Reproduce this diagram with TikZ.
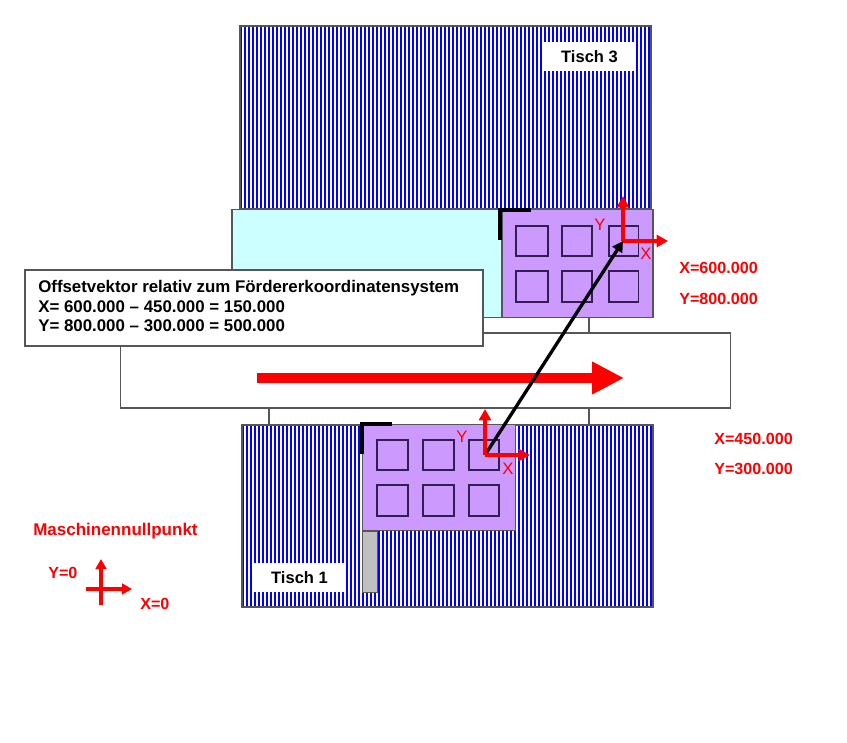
\documentclass[tikz,border=0pt]{standalone}
\usepackage{fontspec}
\setmainfont{Liberation Sans}
\usetikzlibrary{arrows.meta}
\definecolor{edge}{RGB}{85,85,90}
\definecolor{pale}{RGB}{204,255,255}
\definecolor{lilac}{RGB}{204,153,255}
\definecolor{stripe}{RGB}{0,0,255}
\definecolor{sq}{RGB}{50,30,80}
\definecolor{tray}{RGB}{192,192,192}
\definecolor{redc}{RGB}{255,0,0}
\tikzset{
  x=0.75pt,y=-0.75pt,
  panel/.style={draw=edge,line width=0.8pt,anchor=north west,inner sep=0pt,outer sep=0pt},
  slot/.style={draw=sq,line width=0.8pt,fill=none,anchor=north west,inner sep=0pt,outer sep=0pt},
  tag/.style={fill=white,inner sep=0pt,font=\bfseries\fontsize{12.4}{14}\selectfont},
  redtxt/.style={text=redc,inner sep=0pt,font=\bfseries\fontsize{12.1}{14}\selectfont,anchor=west},
  axtxt/.style={text=redc,inner sep=0pt,font=\fontsize{12.5}{14}\selectfont},
  axis/.style={draw=redc,line width=2.6pt,-{Triangle[length=8.5pt,width=9pt]}},
  crossax/.style={draw=redc,line width=2.4pt,-{Triangle[length=7.5pt,width=8pt]}},
  bracket/.style={draw=black,line width=2.9pt,line cap=butt,line join=miter},
  link/.style={draw=edge,line width=0.8pt},
}
\newcommand{\stripes}[4]{%
  \begin{scope}
    \clip (#1,#2) rectangle (#3,#4);
    \fill[white] (#1,#2) rectangle (#3,#4);
    \pgfmathsetmacro{\xsec}{#1+4}
    \foreach \sx in {#1,\xsec,...,#3} {\fill[stripe] (\sx,#2) rectangle ++(2,#4-#2);}
  \end{scope}%
  \draw[draw=edge,line width=0.8pt] (#1,#2) rectangle (#3,#4);%
}
\begin{document}
\begin{tikzpicture}
\useasboundingbox (0,0) rectangle (847,743);
% Tables
\stripes{240}{26}{651}{209}
\stripes{242}{425}{653}{607}
\node[tag,minimum width=69.75pt,minimum height=21.75pt] (t3) at (589.5,56.5) {Tisch 3};
\node[tag,minimum width=69.75pt,minimum height=21.75pt] (t1) at (299.5,577.5) {Tisch 1};
% Conveyor
\node[panel,fill=white,minimum width=457.5pt,minimum height=56.25pt] (conv) at (120.5,333) {};
\coordinate (lk1a) at (269,317); \coordinate (lk1b) at (269,333);
\coordinate (lk2a) at (589,317); \coordinate (lk2b) at (589,333);
\coordinate (lk3a) at (269,408); \coordinate (lk3b) at (269,425);
\coordinate (lk4a) at (589,408); \coordinate (lk4b) at (589,425);
\draw[link] (lk1a)--(lk1b); \draw[link] (lk2a)--(lk2b);
\draw[link] (lk3a)--(lk3b); \draw[link] (lk4a)--(lk4b);
% Upper station
\node[panel,fill=pale,minimum width=202.5pt,minimum height=81pt] (cy) at (232,209.5) {};
\node[panel,fill=lilac,minimum width=113.25pt,minimum height=81pt] (pt) at (502,209.5) {};
\foreach \nm/\px/\py/\pw/\ph in {a/516/226/32/30,b/562/226/30/30,c/609/226/29.5/30,d/516/271/32/31,e/562/271/30/31,f/609/271/29.5/31}
  \node[slot,minimum width=\pw*0.75pt,minimum height=\ph*0.75pt] (pt\nm) at (\px,\py) {};
\coordinate (b1a) at (531,210); \coordinate (b1c) at (500,210); \coordinate (b1b) at (500,240);
\draw[bracket] (b1a)--(b1c)--(b1b);
% Lower station
\node[panel,fill=tray,minimum width=11.25pt,minimum height=46pt] (gray) at (362.5,531) {};
\node[panel,fill=lilac,minimum width=114.75pt,minimum height=79.5pt] (pb) at (362.5,424.5) {};
\foreach \nm/\px/\py/\pw/\ph in {a/377/440/31/30,b/423/440/31/30,c/469/440/30/30,d/377/485/31/31,e/423/485/31/31,f/469/485/30/31}
  \node[slot,minimum width=\pw*0.75pt,minimum height=\ph*0.75pt] (pb\nm) at (\px,\py) {};
\coordinate (b2a) at (392,424); \coordinate (b2c) at (362,424); \coordinate (b2b) at (362,454);
\draw[bracket] (b2a)--(b2c)--(b2b);
% Flow arrow
\coordinate (fl1) at (257,378); \coordinate (fl2) at (624,378);
\draw[draw=redc,line width=7.5pt,-{Triangle[length=24pt,width=23pt]}] (fl1)--(fl2);
% Text box
\node[panel,fill=white,minimum width=343.5pt,minimum height=57pt] (tb) at (25,270) {};
\node[anchor=west,align=left,inner sep=0pt,font=\bfseries\fontsize{12.65}{14.6}\selectfont] (tbt) at (38,306)
 {Offsetvektor relativ zum Fördererkoordinatensystem\\X= 600.000 – 450.000 = 150.000\\Y= 800.000 – 300.000 = 500.000};
% Axes + vector
\coordinate (o1) at (485,455); \coordinate (o1x) at (530,455); \coordinate (o1y) at (485,409);
\coordinate (o3) at (623,241); \coordinate (o3x) at (668,241); \coordinate (o3y) at (623,196);
\draw[draw=black,line width=2.5pt,-{Triangle[length=8pt,width=8.5pt]}] (o1)--(o3);
\draw[axis] (o1)--(o1x); \draw[axis] (o1)--(o1y);
\draw[axis] (o3)--(o3x); \draw[axis] (o3)--(o3y);
% Labels
\node[axtxt] (ly3) at (600,225) {Y};
\node[axtxt] (lx3) at (646,254) {X};
\node[axtxt] (ly1) at (462,437) {Y};
\node[axtxt] (lx1) at (508,469) {X};
\node[redtxt] (x3) at (679,267.5) {X=600.000};
\node[redtxt] (y3) at (679,298.5) {Y=800.000};
\node[redtxt] (x1) at (714,438.5) {X=450.000};
\node[redtxt] (y1) at (714,468.5) {Y=300.000};
\node[redtxt,font=\bfseries\fontsize{12.75}{14}\selectfont] (mn) at (33,531.5) {Maschinennullpunkt};
\node[redtxt] (y0) at (48,572.5) {Y=0};
\node[redtxt] (x0) at (140,603.5) {X=0};
% Machine origin
\coordinate (cl) at (86,589); \coordinate (cr) at (132,589);
\coordinate (cd) at (101,605); \coordinate (cu) at (101,559);
\draw[crossax] (cl)--(cr); \draw[crossax] (cd)--(cu);
\end{tikzpicture}
\end{document}
